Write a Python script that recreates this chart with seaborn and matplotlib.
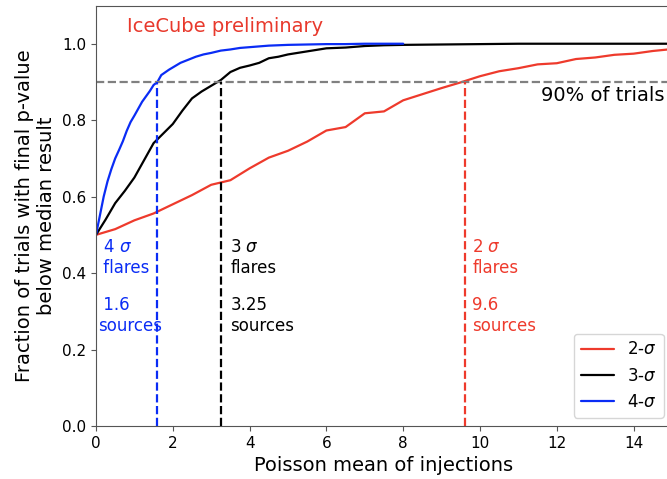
import numpy as np
import pandas as pd
import matplotlib
matplotlib.use('Agg')
import matplotlib.pyplot as plt
import seaborn as sns

# Poisson mean of injections vs fraction of trials below median result
mu_2sig = [0, 0.5, 1, 1.5, 2, 2.5, 3, 3.5, 4, 4.5, 5, 5.5, 6, 6.5, 7, 7.5,
           8, 8.5, 9, 9.5, 10, 10.5, 11, 11.5, 12, 12.5, 13, 13.5, 14, 14.5, 15]
frac_2sig = [0.500, 0.515, 0.538, 0.556, 0.580, 0.604, 0.631, 0.643, 0.674, 0.702,
             0.720, 0.744, 0.773, 0.782, 0.818, 0.823, 0.852, 0.868, 0.884, 0.899,
             0.915, 0.928, 0.936, 0.946, 0.949, 0.960, 0.964, 0.971, 0.974, 0.981, 0.986]

mu_3sig = [0, 0.25, 0.5, 0.75, 1, 1.25, 1.5, 1.75, 2, 2.25, 2.5, 2.75, 3, 3.25,
           3.5, 3.75, 4, 4.25, 4.5, 4.75, 5, 5.5, 6, 6.5, 7, 7.5, 8, 9, 10, 11,
           12, 13, 14, 15]
frac_3sig = [0.500, 0.540, 0.583, 0.615, 0.650, 0.695, 0.740, 0.765, 0.790, 0.825,
             0.857, 0.875, 0.890, 0.905, 0.926, 0.937, 0.943, 0.950, 0.962, 0.966,
             0.972, 0.980, 0.988, 0.990, 0.994, 0.996, 0.997, 0.998, 0.999, 1.0,
             1.0, 1.0, 1.0, 1.0]

mu_4sig = [0, 0.1, 0.2, 0.3, 0.4, 0.5, 0.6, 0.7, 0.8, 0.9, 1.0, 1.1, 1.2, 1.3,
           1.4, 1.5, 1.6, 1.7, 1.8, 1.9, 2.0, 2.2, 2.4, 2.6, 2.8, 3.0, 3.25, 3.5,
           3.75, 4, 4.5, 5, 5.5, 6, 6.5, 7, 7.5, 8]
frac_4sig = [0.500, 0.550, 0.600, 0.640, 0.672, 0.700, 0.722, 0.745, 0.772, 0.795,
             0.812, 0.830, 0.848, 0.862, 0.876, 0.892, 0.900, 0.918, 0.925, 0.932,
             0.938, 0.950, 0.958, 0.966, 0.972, 0.976, 0.982, 0.985, 0.989, 0.991,
             0.995, 0.997, 0.998, 0.999, 0.999, 1.0, 1.0, 1.0]

labels = ['2-$\\sigma$', '3-$\\sigma$', '4-$\\sigma$']
colors = ['#ee3a2c', '#000000', '#0a2cf5']
thresholds = [9.6, 3.25, 1.6]   # mu where 90% of trials reached
flare_text = ['2 $\\sigma$\nflares', '3 $\\sigma$\nflares', ' 4 $\\sigma$\n flares']
source_text = ['9.6\nsources', '3.25\nsources', ' 1.6\nsources']
text_x = [9.8, 3.5, 0.05]

df = pd.concat([
    pd.DataFrame({'mu': mu_2sig, 'frac': frac_2sig, 'sig': labels[0]}),
    pd.DataFrame({'mu': mu_3sig, 'frac': frac_3sig, 'sig': labels[1]}),
    pd.DataFrame({'mu': mu_4sig, 'frac': frac_4sig, 'sig': labels[2]}),
], ignore_index=True)

sns.set_style('ticks')
plt.rcParams['font.family'] = ['DejaVu Sans']

fig = plt.figure(figsize=(6.67, 4.79), dpi=100)
# axes runs slightly past the right edge of the figure, as in the original
ax = fig.add_axes([96 / 667, 53 / 479, 576 / 667, 420.5 / 479])

sns.lineplot(data=df, x='mu', y='frac', hue='sig', hue_order=labels,
             palette=colors, lw=1.6, ax=ax)

ax.axhline(0.9, color='gray', ls='--', lw=1.6)
ax.vlines(thresholds, 0, 0.9, colors=colors, linestyles='--', lw=1.6)

for x, c, t1, t2 in zip(text_x, colors, flare_text, source_text):
    ax.text(x, 0.44, t1, color=c, fontsize=12, va='center', ha='left')
    ax.text(x, 0.29, t2, color=c, fontsize=12, va='center', ha='left')

ax.text(0.81, 1.046, 'IceCube preliminary', color='#e8392c', fontsize=14, va='center')
ax.text(11.59, 0.865, '90% of trials', color='black', fontsize=14, va='center')

ax.set_xlim(0, 15)
ax.set_ylim(0, 1.1)
ax.set_xticks(np.arange(0, 15, 2))
ax.set_yticks(np.arange(0, 1.01, 0.2))
ax.tick_params(labelsize=11, color='#555555', labelcolor='black')
for s in ax.spines.values():
    s.set_color('#555555')
ax.set_xlabel('Poisson mean of injections', fontsize=14, color='black')
ax.set_ylabel('Fraction of trials with final p-value\nbelow median result',
              fontsize=14, color='black')

handles, labs = ax.get_legend_handles_labels()
leg = ax.legend(handles, labs, loc='lower right', fontsize=12, frameon=True)
for t in leg.get_texts():
    t.set_color('black')

fig.savefig('out.png', dpi=100)
